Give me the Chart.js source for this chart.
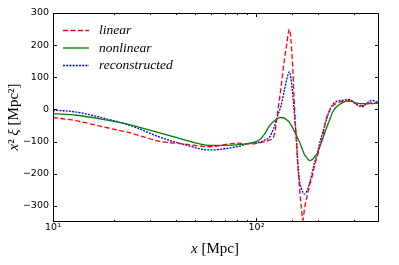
<!DOCTYPE html>
<html>
<head>
<meta charset="utf-8">
<script src="https://cdn.jsdelivr.net/npm/chart.js@4.4.0/dist/chart.umd.min.js"></script>
<style>
  html, body { margin: 0; padding: 0; background: #fff; }
</style>
</head>
<body>
<canvas id="chart" width="399" height="265"></canvas>
<script>
// separation x in Mpc
const separation = [10, 13, 17, 24, 33.5, 43, 59, 80, 95, 103, 110, 116, 122, 127, 132, 137, 141, 145, 150, 154, 157, 160, 163, 166, 169, 172, 178, 182, 189, 192, 200, 204, 212, 220, 228, 237, 246, 260, 275, 286, 297, 310, 320, 332, 345, 360, 372, 385, 396];

// x^2 xi values
const linear = [-25, -35, -52, -73, -99, -107, -116, -105, -107, -104, -100, -95, -82, -10, 70, 153, 205, 250, 153, -3, -100, -185, -250, -305, -345, -310, -265, -238, -201, -180, -140, -118, -81, -30, -5, 12, 18, 24, 27, 26, 23, 17, 13, 12, 16, 20, 21, 20, 20];
const nonlinear = [-13, -18, -29, -48, -73, -92, -112, -110, -104, -95, -75, -50, -36, -28, -25, -27, -33, -40, -55, -70, -80, -92, -102, -115, -128, -140, -152, -159, -155, -149, -135, -118, -90, -60, -35, -8, 7, 18, 26, 27, 24, 20, 18, 18, 18, 18, 18, 19, 20];
const reconstructed = [-2, -8, -24, -50, -86, -107, -126, -116, -104, -102, -95, -86, -55, -20, 12, 59, 95, 117, 60, -24, -90, -170, -225, -245, -258, -263, -250, -230, -190, -170, -130, -107, -70, -34, -5, 16, 24, 28, 30, 31, 25, 15, 10, 9, 16, 26, 28, 24, 23];

const seriesLabels = ['linear', 'nonlinear', 'reconstructed'];
const seriesColors = ['#ff0000', '#008000', '#0000ff'];
const seriesDash = [[5, 2.5], [], [2, 1.2]];

const yTicks = [-300, -200, -100, 0, 100, 200, 300];

const toPoints = vals => vals.map((v, i) => ({ x: separation[i], y: v }));

const serif = '"Liberation Serif", "DejaVu Serif", serif';

const drawRich = (ctx, parts, cx, cy) => {
    let total = 0;
    parts.forEach(p => { ctx.font = p.f; total += ctx.measureText(p.t).width; });
    let x = cx - total / 2;
    ctx.textBaseline = 'middle';
    ctx.textAlign = 'left';
    parts.forEach(p => {
        ctx.font = p.f;
        ctx.fillText(p.t, x, cy);
        x += ctx.measureText(p.t).width;
    });
};

const decorations = {
    id: 'decorations',
    afterDraw(chart) {
        const ctx = chart.ctx;
        const a = chart.chartArea;
        const xs = chart.scales.x;
        const ys = chart.scales.y;
        ctx.save();
        ctx.strokeStyle = '#000';
        ctx.lineWidth = 1;
        ctx.setLineDash([]);
        ctx.strokeRect(a.left + 0.5, a.top + 0.5, a.right - a.left - 1, a.bottom - a.top - 1);

        // inward tick marks on all four sides
        ctx.beginPath();
        xs.ticks.forEach(t => {
            const px = Math.round(xs.getPixelForValue(t.value)) + 0.5;
            if (px < a.left || px > a.right) return;
            const major = Math.abs(Math.log10(t.value) - Math.round(Math.log10(t.value))) < 1e-9;
            const len = major ? 4 : 2;
            ctx.moveTo(px, a.bottom); ctx.lineTo(px, a.bottom - len);
            ctx.moveTo(px, a.top); ctx.lineTo(px, a.top + len);
        });
        yTicks.forEach(v => {
            const py = Math.round(ys.getPixelForValue(v)) + 0.5;
            ctx.moveTo(a.left, py); ctx.lineTo(a.left + 4, py);
            ctx.moveTo(a.right, py); ctx.lineTo(a.right - 4, py);
        });
        ctx.stroke();

        // legend
        const legendY = [30.5, 48, 65.5];
        seriesLabels.forEach((label, i) => {
            ctx.strokeStyle = seriesColors[i];
            ctx.lineWidth = 1.3;
            ctx.setLineDash(seriesDash[i]);
            ctx.beginPath();
            ctx.moveTo(63, legendY[i]);
            ctx.lineTo(89, legendY[i]);
            ctx.stroke();
            ctx.setLineDash([]);
            ctx.fillStyle = '#000';
            ctx.font = 'italic 13.5px ' + serif;
            ctx.textAlign = 'left';
            ctx.textBaseline = 'middle';
            ctx.fillText(label, 99, legendY[i]);
        });

        // axis titles
        ctx.fillStyle = '#000';
        drawRich(ctx, [
            { t: 'x', f: 'italic 15px ' + serif },
            { t: ' [Mpc]', f: '15px ' + serif }
        ], 215, 249);

        ctx.translate(14, 117);
        ctx.rotate(-Math.PI / 2);
        drawRich(ctx, [
            { t: 'x', f: 'italic 15px ' + serif },
            { t: '²', f: '15px ' + serif },
            { t: ' ξ', f: 'italic 15px ' + serif },
            { t: ' [Mpc²]', f: '15px ' + serif }
        ], 0, 0);
        ctx.restore();
    }
};

new Chart(document.getElementById('chart'), {
    type: 'line',
    data: {
        datasets: [linear, nonlinear, reconstructed].map((vals, i) => ({
            label: seriesLabels[i],
            data: toPoints(vals),
            borderColor: seriesColors[i],
            borderDash: seriesDash[i],
            borderWidth: 1.3,
            pointRadius: 0,
            fill: false,
            cubicInterpolationMode: 'monotone'
        }))
    },
    options: {
        responsive: false,
        animation: false,
        devicePixelRatio: 1,
        layout: { padding: { top: 13, right: 20, left: 0, bottom: 0 } },
        plugins: {
            legend: { display: false },
            tooltip: { enabled: false }
        },
        scales: {
            x: {
                type: 'logarithmic',
                min: 10,
                max: 400,
                grid: { display: false, drawTicks: false },
                border: { display: false },
                ticks: {
                    autoSkip: false,
                    maxRotation: 0,
                    padding: 0,
                    color: '#000',
                    font: { family: '"DejaVu Sans", sans-serif', size: 9.5 },
                    callback: v => v === 10 ? '10¹' : (v === 100 ? '10²' : '')
                },
                afterFit: s => { s.height = 43; }
            },
            y: {
                min: -350,
                max: 300,
                grid: { display: false, drawTicks: false },
                border: { display: false },
                ticks: {
                    stepSize: 100,
                    includeBounds: false,
                    padding: 4,
                    color: '#000',
                    font: { family: '"DejaVu Sans", sans-serif', size: 9.5 },
                    callback: v => v < 0 ? '\u2212' + Math.abs(v) : String(v)
                },
                afterFit: s => { s.width = 53; }
            }
        }
    },
    plugins: [decorations]
});
</script>
</body>
</html>
